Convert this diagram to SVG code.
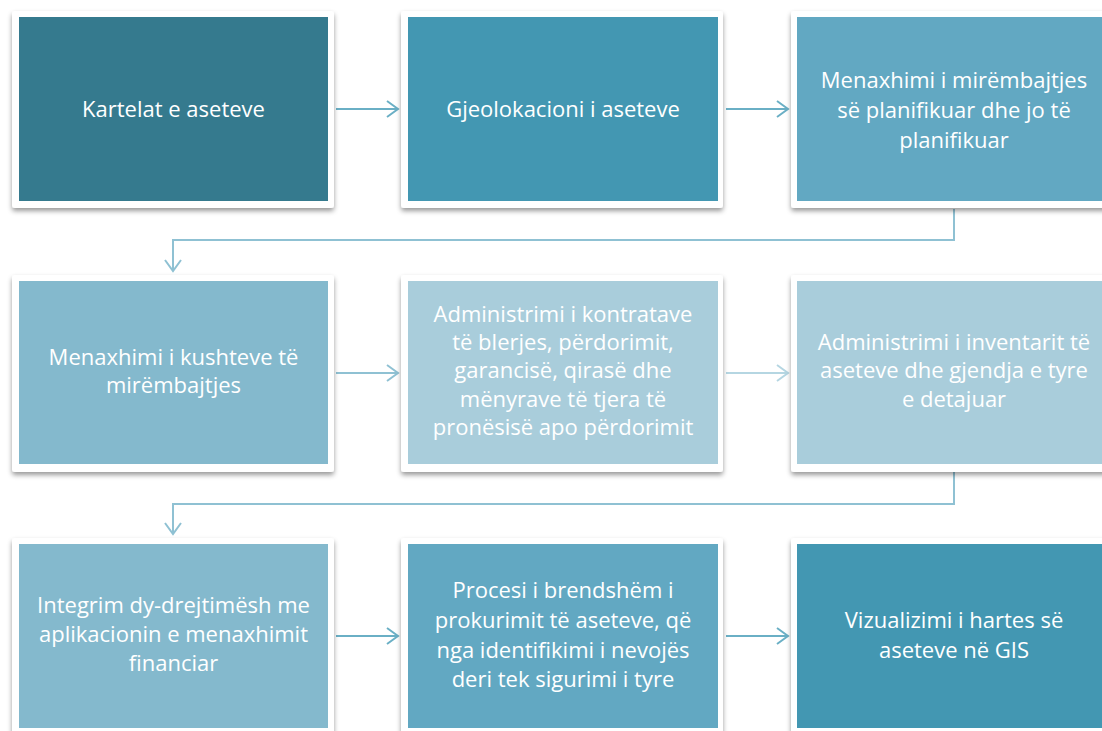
<svg xmlns="http://www.w3.org/2000/svg" width="1102" height="731" viewBox="0 0 1102 731">
<defs>
<filter id="sh" x="-10%" y="-10%" width="120%" height="125%">
<feDropShadow dx="0" dy="3" stdDeviation="2.5" flood-color="#000" flood-opacity="0.4"/>
</filter>
<marker id="a1" markerUnits="userSpaceOnUse" markerWidth="16" markerHeight="20" refX="13" refY="10" orient="auto">
<path d="M2,2 L13,10 L2,18" fill="none" stroke="#6aafc5" stroke-width="2"/>
</marker>
<marker id="a2" markerUnits="userSpaceOnUse" markerWidth="16" markerHeight="20" refX="13" refY="10" orient="auto">
<path d="M2,2 L13,10 L2,18" fill="none" stroke="#b5d6e2" stroke-width="2"/>
</marker>
<marker id="a3" markerUnits="userSpaceOnUse" markerWidth="16" markerHeight="20" refX="13" refY="10" orient="auto">
<path d="M2,2 L13,10 L2,18" fill="none" stroke="#8fc1d3" stroke-width="2"/>
</marker>
</defs>
<style>
.frame{fill:#ffffff;filter:url(#sh)}
.t{font-family:"Open Sans","Liberation Sans",sans-serif;font-size:22px;fill:#ffffff;text-anchor:middle}
.c1{stroke:#6aafc5;stroke-width:2;fill:none}
.c2{stroke:#b5d6e2;stroke-width:2;fill:none}
.c3{stroke:#8fc1d3;stroke-width:2;fill:none}
</style>
<rect width="1102" height="731" fill="#ffffff"/>
<g id="connectors">
<line class="c1" x1="336" y1="109" x2="398" y2="109" marker-end="url(#a1)"/>
<line class="c1" x1="726" y1="109" x2="788" y2="109" marker-end="url(#a1)"/>
<polyline class="c3" points="954,209 954,240 173,240 173,271" marker-end="url(#a3)"/>
<line class="c3" x1="336" y1="373" x2="398" y2="373" marker-end="url(#a3)"/>
<line class="c2" x1="726" y1="373" x2="788" y2="373" marker-end="url(#a2)"/>
<polyline class="c3" points="954,472 954,504 173,504 173,534" marker-end="url(#a3)"/>
<line class="c1" x1="336" y1="636" x2="398" y2="636" marker-end="url(#a1)"/>
<line class="c1" x1="726" y1="636" x2="788" y2="636" marker-end="url(#a1)"/>
</g>
<g id="n1">
<rect class="frame" x="12" y="11" width="322" height="197" rx="3"/>
<rect x="19" y="17" width="309" height="184" fill="#357a8e"/>
<text class="t" x="173.5" y="117">Kartelat e aseteve</text>
</g>
<g id="n2">
<rect class="frame" x="401" y="11" width="322" height="197" rx="3"/>
<rect x="408" y="17" width="310" height="184" fill="#4397b2"/>
<text class="t" x="563" y="117">Gjeolokacioni i aseteve</text>
</g>
<g id="n3">
<rect class="frame" x="791" y="11" width="322" height="197" rx="3"/>
<rect x="797" y="17" width="310" height="184" fill="#62a8c2"/>
<text class="t" x="954" y="88">Menaxhimi i mirëmbajtjes</text>
<text class="t" x="954" y="118">së planifikuar dhe jo të</text>
<text class="t" x="954" y="148">planifikuar</text>
</g>
<g id="n4">
<rect class="frame" x="12" y="275" width="322" height="197" rx="3"/>
<rect x="19" y="281" width="309" height="183" fill="#84b9cd"/>
<text class="t" x="173.5" y="365">Menaxhimi i kushteve të</text>
<text class="t" x="173.5" y="393">mirëmbajtjes</text>
</g>
<g id="n5">
<rect class="frame" x="401" y="275" width="322" height="197" rx="3"/>
<rect x="408" y="281" width="310" height="183" fill="#a9cddb"/>
<text class="t" x="563" y="322">Administrimi i kontratave</text>
<text class="t" x="563" y="350">të blerjes, përdorimit,</text>
<text class="t" x="563" y="378">garancisë, qirasë dhe</text>
<text class="t" x="563" y="407">mënyrave të tjera të</text>
<text class="t" x="563" y="435">pronësisë apo përdorimit</text>
</g>
<g id="n6">
<rect class="frame" x="791" y="275" width="322" height="197" rx="3"/>
<rect x="797" y="281" width="310" height="183" fill="#a9cddb"/>
<text class="t" x="954" y="350">Administrimi i inventarit të</text>
<text class="t" x="954" y="378">aseteve dhe gjendja e tyre</text>
<text class="t" x="954" y="407">e detajuar</text>
</g>
<g id="n7">
<rect class="frame" x="12" y="538" width="322" height="197" rx="3"/>
<rect x="19" y="544" width="309" height="184" fill="#84b9cd"/>
<text class="t" x="173.5" y="613">Integrim dy-drejtimësh me</text>
<text class="t" x="173.5" y="642">aplikacionin e menaxhimit</text>
<text class="t" x="173.5" y="671">financiar</text>
</g>
<g id="n8">
<rect class="frame" x="401" y="538" width="322" height="197" rx="3"/>
<rect x="408" y="544" width="310" height="184" fill="#62a8c2"/>
<text class="t" x="563" y="598">Procesi i brendshëm i</text>
<text class="t" x="563" y="628">prokurimit të aseteve, që</text>
<text class="t" x="563" y="658">nga identifikimi i nevojës</text>
<text class="t" x="563" y="687">deri tek sigurimi i tyre</text>
</g>
<g id="n9">
<rect class="frame" x="791" y="538" width="322" height="197" rx="3"/>
<rect x="797" y="544" width="310" height="184" fill="#4397b2"/>
<text class="t" x="954" y="628">Vizualizimi i hartes së</text>
<text class="t" x="954" y="658">aseteve në GIS</text>
</g>
</svg>
